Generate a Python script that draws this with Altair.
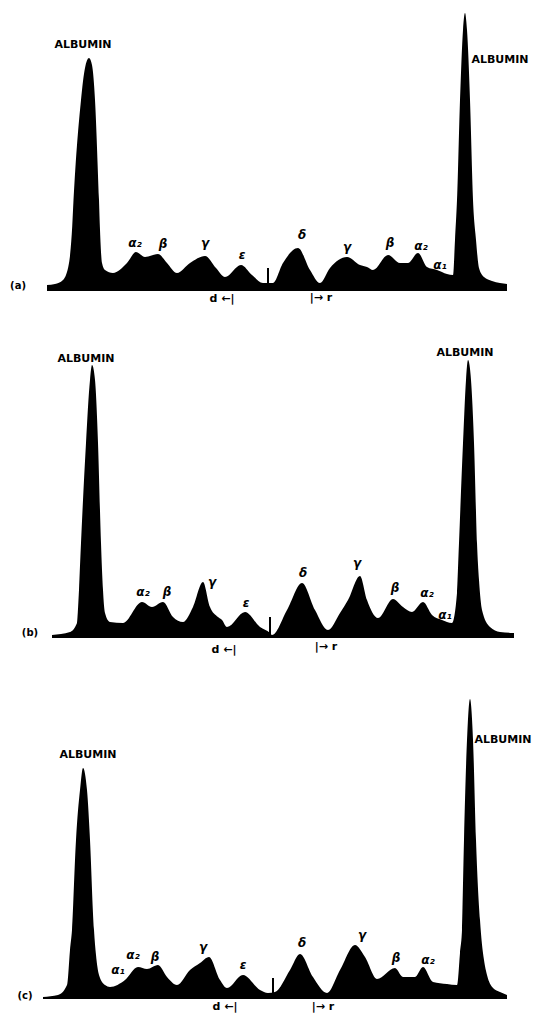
import altair as alt
import pandas as pd

# ---- densitometer traces (position along strip, relative density) ----
A_POS = [47, 55, 63, 69, 72, 73.5, 81, 85, 89, 92, 95, 99, 100, 102, 105, 113, 127, 136, 145, 158,
         167, 177, 190, 205, 216, 225, 241, 252, 263, 273, 283, 298, 310, 320, 330, 347, 360, 367, 373, 388,
         400, 408, 418, 427, 437, 447, 453, 455, 457, 460, 463, 465, 467, 470, 473, 476, 479, 484, 492, 500, 507]
A_DEN = [6, 7, 11, 28, 61, 91, 191, 223, 233, 226, 191, 91, 61, 28, 21, 18, 28, 39, 34, 37,
         28, 18, 28, 35, 23, 14, 26, 16, 8, 8, 28, 43, 21, 8, 23, 34, 26, 24, 21, 36,
         28, 28, 38, 24, 21, 17, 16, 51, 91, 191, 261, 278, 261, 191, 91, 51, 23, 14, 10, 8, 7]

B_POS = [52, 70, 77, 79, 81, 86, 90, 92, 95, 98, 101, 103, 105, 110, 123, 142, 152, 163, 173, 183,
         193, 203, 210, 218, 222, 227, 245, 260, 270, 272, 287, 302, 315, 328, 340, 348, 360, 367, 378, 393,
         403, 412, 423, 432, 442, 452, 457, 459, 463, 466, 468, 471, 474, 477, 479, 482, 490, 500, 514]
B_DEN = [3, 6, 15, 48, 95, 195, 258, 273, 258, 195, 95, 48, 25, 16, 15, 36, 31, 36, 21, 16,
         31, 56, 31, 21, 18, 11, 26, 11, 5, 3, 28, 55, 28, 8, 25, 38, 62, 38, 20, 39,
         31, 26, 36, 23, 18, 15, 45, 95, 195, 258, 278, 258, 195, 95, 58, 28, 11, 6, 5]

C_POS = [43, 58, 67, 70, 72, 76, 80, 83, 87, 90, 94, 96, 99, 105, 110, 125, 138, 147, 158, 167,
         177, 190, 200, 209, 220, 227, 243, 260, 268, 275, 290, 300, 313, 327, 340, 355, 365, 377, 395, 403,
         415, 423, 433, 447, 457, 460, 462, 464, 467, 470, 473, 476, 480, 484, 487, 493, 500, 507]
C_DEN = [2, 4, 14, 49, 69, 159, 209, 231, 209, 159, 69, 44, 24, 14, 12, 19, 32, 30, 34, 22,
         14, 29, 36, 42, 19, 11, 24, 9, 6, 7, 29, 45, 22, 6, 29, 54, 42, 20, 31, 22,
         22, 32, 17, 15, 14, 46, 69, 159, 259, 300, 259, 159, 79, 39, 24, 11, 7, 4]

# ---- fraction labels ----
A_LAB = ["α₂", "β", "γ", "ε", "δ", "γ", "β", "α₂", "α₁"]
A_LAB_POS = [135, 163, 205, 242, 302, 347, 390, 421, 440]
A_LAB_DEN = [48, 47, 48, 36, 56, 44, 48, 45, 26]

B_LAB = ["α₂", "β", "γ", "ε", "δ", "γ", "β", "α₂", "α₁"]
B_LAB_POS = [143, 167, 212, 246, 303, 357, 395, 427, 445]
B_LAB_DEN = [46, 46, 56, 35, 65, 75, 50, 45, 23]

C_LAB = ["α₁", "α₂", "β", "γ", "ε", "δ", "γ", "β", "α₂"]
C_LAB_POS = [118, 133, 155, 203, 243, 302, 362, 396, 428]
C_LAB_DEN = [29, 44, 42, 52, 34, 56, 64, 41, 39]

# ---- albumin labels ----
A_ALB_POS = [83, 500]
A_ALB_DEN = [246, 231]
B_ALB_POS = [86, 465]
B_ALB_DEN = [279, 285]
C_ALB_POS = [88, 503]
C_ALB_DEN = [244, 259]

# ---- panel tags ----
TAGS = ["(a)", "(b)", "(c)"]
TAG_POS = [18, 30, 25]
TAG_DEN = [5, 5, 3]

# ---- direction markers ----
DIR_TEXT = ["d ←|", "|→ r"]
A_DIR_POS = [222, 321]
A_DIR_DEN = [-8, -7]
B_DIR_POS = [224, 326]
B_DIR_DEN = [-12, -9]
C_DIR_POS = [225, 323]
C_DIR_DEN = [-8, -8]

# ---- origin slit ----
ORIGIN_POS = [268, 270, 273]
ORIGIN_LO = [8, 3, 4]
ORIGIN_HI = [23, 21, 21]

X_DOMAIN = [8, 540]
FONT = "DejaVu Sans"


def panel(pos, den, lab, lab_pos, lab_den, alb_pos, alb_den, tag, tag_pos, tag_den,
          dir_pos, dir_den, o_pos, o_lo, o_hi, ydom, h):
    xs = alt.Scale(domain=X_DOMAIN, nice=False, zero=False)
    ys = alt.Scale(domain=ydom, nice=False, zero=False)
    X = lambda f: alt.X(f, type="quantitative", scale=xs, axis=None)
    Y = lambda f: alt.Y(f, type="quantitative", scale=ys, axis=None)

    trace = alt.Chart(pd.DataFrame({"pos": pos, "den": den})).mark_area(
        color="black", interpolate="monotone"
    ).encode(x=X("pos"), y=Y("den"), y2=alt.datum(0))

    origin = alt.Chart(pd.DataFrame({"pos": [o_pos], "lo": [o_lo], "hi": [o_hi]})).mark_rule(
        color="black", strokeWidth=2
    ).encode(x=X("pos"), y=Y("lo"), y2="hi:Q")

    greek = alt.Chart(pd.DataFrame({"pos": lab_pos, "den": lab_den, "t": lab})).mark_text(
        font=FONT, fontSize=12, fontWeight="bold", fontStyle="italic", color="black",
        align="center", baseline="middle"
    ).encode(x=X("pos"), y=Y("den"), text="t:N")

    alb = alt.Chart(pd.DataFrame({"pos": alb_pos, "den": alb_den,
                                  "t": ["ALBUMIN"] * len(alb_pos)})).mark_text(
        font=FONT, fontSize=11, fontWeight="bold", color="black",
        align="center", baseline="middle"
    ).encode(x=X("pos"), y=Y("den"), text="t:N")

    tg = alt.Chart(pd.DataFrame({"pos": [tag_pos], "den": [tag_den], "t": [tag]})).mark_text(
        font=FONT, fontSize=10, fontWeight="bold", color="black",
        align="center", baseline="middle"
    ).encode(x=X("pos"), y=Y("den"), text="t:N")

    dr = alt.Chart(pd.DataFrame({"pos": dir_pos, "den": dir_den, "t": DIR_TEXT})).mark_text(
        font=FONT, fontSize=11, fontWeight="bold", color="black",
        align="center", baseline="middle"
    ).encode(x=X("pos"), y=Y("den"), text="t:N")

    return alt.layer(trace, origin, greek, alb, tg, dr).properties(width=532, height=h)


pa = panel(A_POS, A_DEN, A_LAB, A_LAB_POS, A_LAB_DEN, A_ALB_POS, A_ALB_DEN,
           TAGS[0], TAG_POS[0], TAG_DEN[0], A_DIR_POS, A_DIR_DEN,
           ORIGIN_POS[0], ORIGIN_LO[0], ORIGIN_HI[0], [-19, 283], 302)
pb = panel(B_POS, B_DEN, B_LAB, B_LAB_POS, B_LAB_DEN, B_ALB_POS, B_ALB_DEN,
           TAGS[1], TAG_POS[1], TAG_DEN[1], B_DIR_POS, B_DIR_DEN,
           ORIGIN_POS[1], ORIGIN_LO[1], ORIGIN_HI[1], [-22, 328], 350)
pc = panel(C_POS, C_DEN, C_LAB, C_LAB_POS, C_LAB_DEN, C_ALB_POS, C_ALB_DEN,
           TAGS[2], TAG_POS[2], TAG_DEN[2], C_DIR_POS, C_DIR_DEN,
           ORIGIN_POS[2], ORIGIN_LO[2], ORIGIN_HI[2], [-15, 339], 354)

chart = alt.vconcat(pa, pb, pc, spacing=0, bounds="flush").properties(
    padding=0, background="white"
).configure_view(stroke=None)

chart.save("out.html", embed_options={"renderer": "svg", "actions": False})
